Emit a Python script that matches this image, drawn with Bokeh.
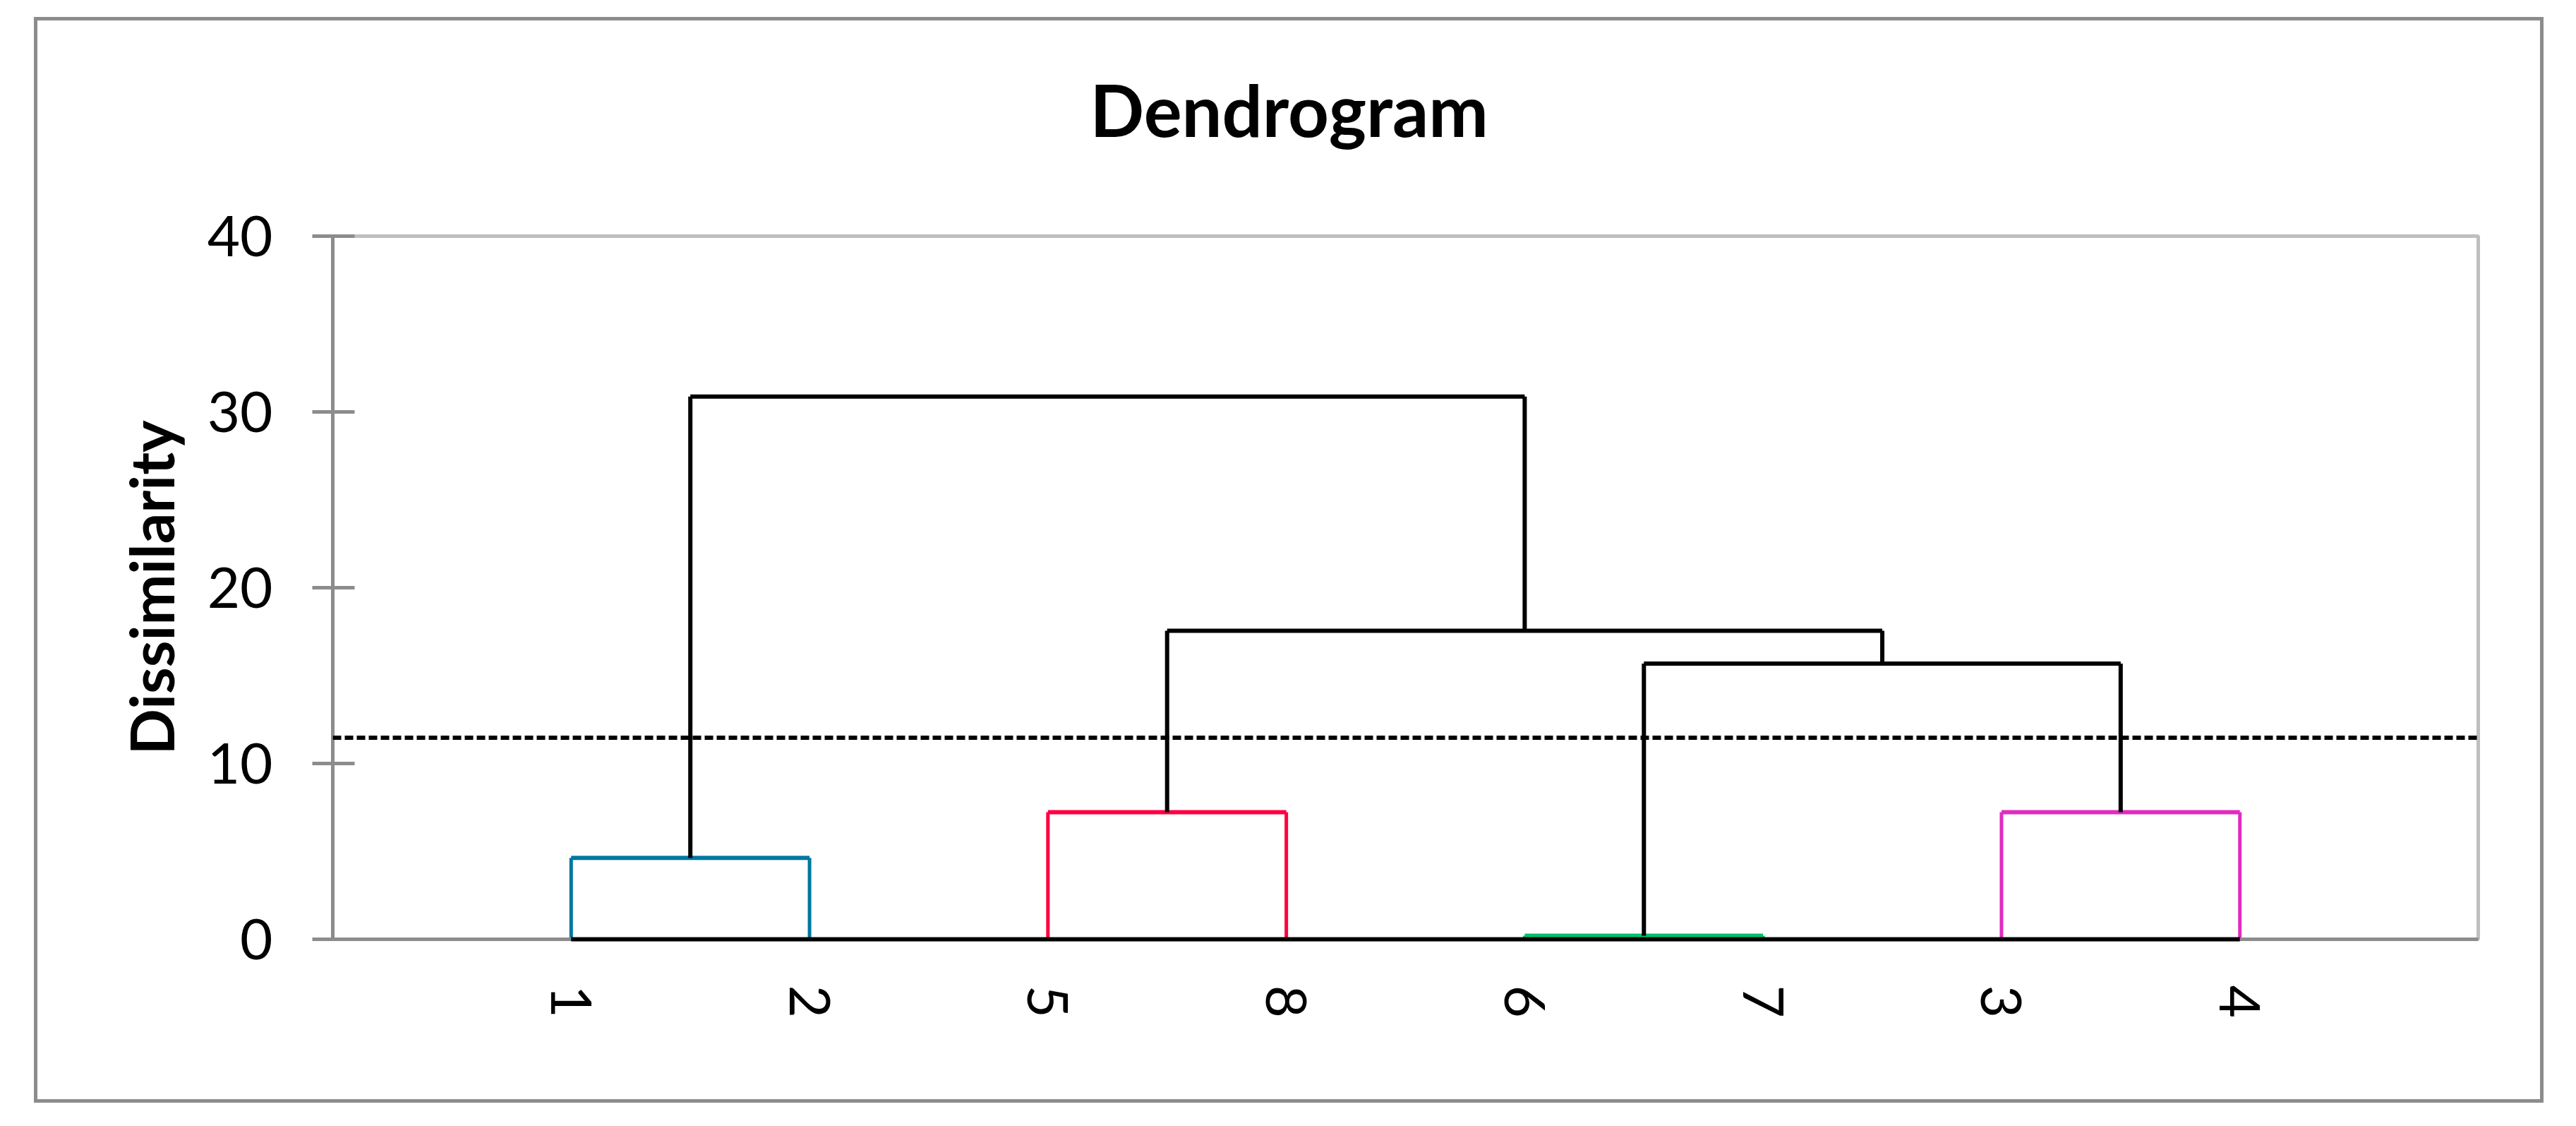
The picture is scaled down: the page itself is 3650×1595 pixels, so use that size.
from bokeh.plotting import figure
from bokeh.models import Range1d, FixedTicker, Span, Title
from bokeh.embed import file_html
from bokeh.resources import INLINE

# ---- data ----
leaf_labels = ["1", "2", "5", "8", "6", "7", "3", "4"]
# merges: (left child, right child, height); children are leaf labels or merge names
merge_names = ["A", "B", "C", "D", "E", "F", "G"]
merge_left = ["6", "1", "5", "3", "A", "C", "B"]
merge_right = ["7", "2", "8", "4", "D", "E", "F"]
merge_height = [0.20, 4.63, 7.23, 7.23, 15.68, 17.55, 30.87]
merge_color = ["#00BE6E", "#0077A0", "#FF0040", "#E02CC0", "black", "black", "black"]
threshold = 11.47
y_ticks = [0, 10, 20, 30, 40]

# ---- node positions in data space ----
pos = {lab: i + 1 for i, lab in enumerate(leaf_labels)}
hgt = {lab: 0.0 for lab in leaf_labels}
for n, l, r, h in zip(merge_names, merge_left, merge_right, merge_height):
    pos[n] = (pos[l] + pos[r]) / 2.0
    hgt[n] = h

W, H = 3546, 1528
p = figure(width=W, height=H, output_backend="svg", toolbar_location=None,
           x_range=Range1d(0, len(leaf_labels) + 1), y_range=Range1d(0, 40),
           frame_width=3040, frame_height=996,
           min_border_left=418, min_border_top=305,
           min_border_right=88, min_border_bottom=227)
p.margin = (29, 0, 0, 53)
p.styles = {"outline": "5px solid #8C8C8C"}
p.background_fill_color = "white"
p.border_fill_color = "white"
p.xgrid.visible = False
p.ygrid.visible = False
p.outline_line_color = "#BFBFBF"
p.outline_line_width = 5

# title
p.title.text = "Dendrogram"
p.title.text_font = "Lato"
p.title.text_font_style = "bold"
p.title.text_font_size = "101px"
p.title.text_color = "black"
p.title.align = "left"
p.title.vertical_align = "bottom"
p.title.offset = 1073
p.title.standoff = 0
# blank spacer between the title and the plot area
p.add_layout(Title(text=" ", text_font="Lato", text_font_size="10px", standoff=105), "above")

# y axis
ya = p.yaxis[0]
ya.ticker = FixedTicker(ticks=y_ticks)
ya.minor_tick_line_color = None
ya.major_tick_in = 31
ya.major_tick_out = 29
ya.major_tick_line_color = "#8C8C8C"
ya.major_tick_line_width = 5
ya.axis_line_color = "#8C8C8C"
ya.axis_line_width = 5
ya.major_label_text_font = "Lato"
ya.major_label_text_font_size = "80px"
ya.major_label_text_color = "black"
ya.major_label_standoff = 56
ya.axis_label = "Dissimilarity"
ya.axis_label_text_font = "Lato"
ya.axis_label_text_font_style = "bold"
ya.axis_label_text_font_size = "86px"
ya.axis_label_text_color = "black"
ya.axis_label_standoff = 26

# x axis
xa = p.xaxis[0]
xa.ticker = FixedTicker(ticks=[pos[l] for l in leaf_labels])
xa.major_label_overrides = {pos[l]: l for l in leaf_labels}
xa.major_label_orientation = "vertical"
xa.minor_tick_line_color = None
xa.major_tick_line_color = None
xa.major_tick_in = 0
xa.major_tick_out = 0
xa.axis_line_color = "#8C8C8C"
xa.axis_line_width = 5
xa.major_label_text_font = "Lato"
xa.major_label_text_font_size = "80px"
xa.major_label_text_color = "black"
xa.major_label_standoff = 65

# baseline through leaves (drawn above the axis line)
p.line([pos[leaf_labels[0]], pos[leaf_labels[-1]]], [0, 0], line_color="black",
       line_width=6, level="overlay")

# dendrogram links
for n, l, r, h, c in zip(merge_names, merge_left, merge_right, merge_height, merge_color):
    vw = 6 if c == "black" else 5
    p.line([pos[l], pos[l]], [hgt[l], h], line_color=c, line_width=vw)
    p.line([pos[r], pos[r]], [hgt[r], h], line_color=c, line_width=vw)
    p.line([pos[l], pos[r]], [h, h], line_color=c, line_width=6)

# truncation line
p.add_layout(Span(location=threshold, dimension="width", line_color="black",
                  line_width=6, line_dash="12 5"))

open("out.html", "w").write(file_html(p, INLINE))
